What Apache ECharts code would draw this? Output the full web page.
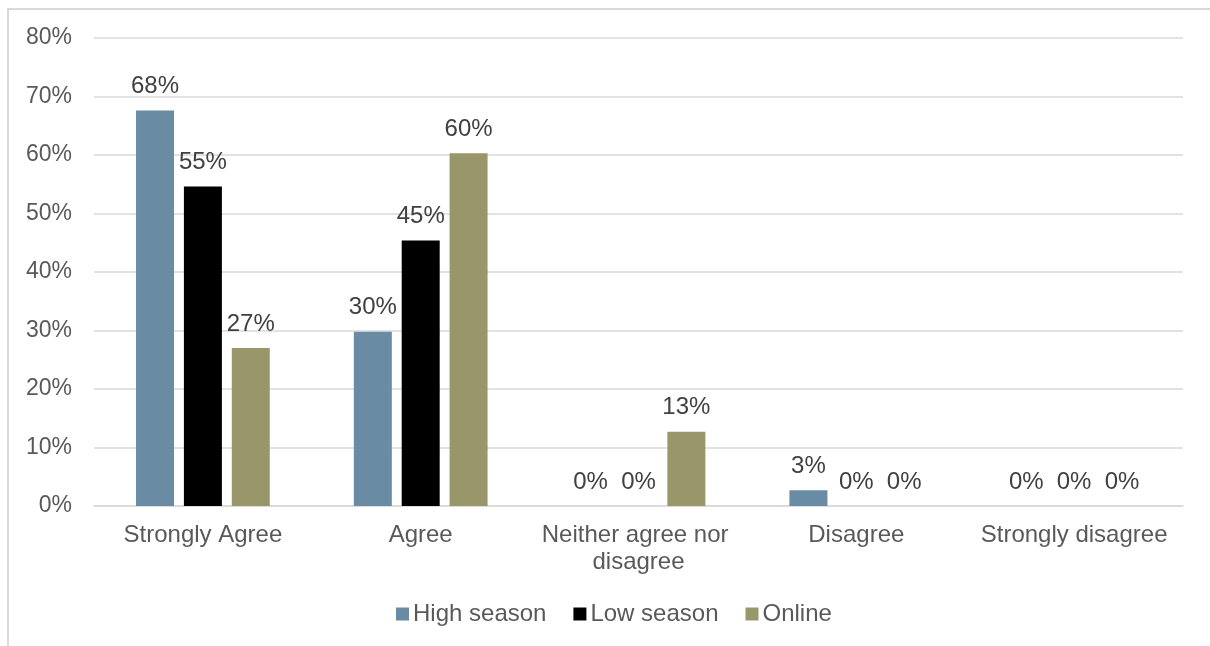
<!DOCTYPE html>
<html>
<head>
<meta charset="utf-8">
<script src="https://cdn.jsdelivr.net/npm/echarts@6/dist/echarts.min.js"></script>
<style>html,body{margin:0;padding:0;background:#fff}#c{width:1210px;height:646px}</style>
</head>
<body>
<div id="c"></div>
<script>
const categories = ['Strongly Agree', 'Agree', 'Neither agree nor disagree', 'Disagree', 'Strongly disagree'];
const highSeason = [67.6, 29.8, 0, 2.7, 0];
const lowSeason = [54.6, 45.4, 0, 0, 0];
const online = [27.0, 60.3, 12.7, 0, 0];
const seriesNames = ['High season', 'Low season', 'Online'];
const yTicks = [0, 10, 20, 30, 40, 50, 60, 70, 80];

const colors = ['#6a8ba4', '#000000', '#999769'];
const font = 'Liberation Sans, Arial, sans-serif';
const chart = echarts.init(document.getElementById('c'));
const label = {
  show: true, position: 'top', distance: 12, color: '#404040', fontSize: 24, fontFamily: font,
  formatter: p => Math.round(p.value) + '%'
};
function mk(name, data, i) {
  return { name, type: 'bar', data, barWidth: 38, barGap: '26%', itemStyle: { color: colors[i] }, label };
}
chart.setOption({
  animation: false,
  graphic: [{ type: 'rect', shape: { x: 8, y: 9, width: 1400, height: 1000 }, style: { fill: 'none', stroke: '#d9d9d9', lineWidth: 2 }, silent: true }],
  grid: { left: 94, right: 27, top: 38, bottom: 140 },
  legend: {
    top: 597, left: 391, itemWidth: 13, itemHeight: 13, itemGap: 27, icon: 'rect',
    textStyle: { color: '#595959', fontSize: 24, fontFamily: font, padding: [0, 0, 0, -1] },
    data: seriesNames
  },
  xAxis: {
    type: 'category', data: categories,
    axisLine: { lineStyle: { color: '#d9d9d9', width: 1.5 } },
    axisTick: { show: false },
    axisLabel: { color: '#595959', fontSize: 24, fontFamily: font, margin: 16, lineHeight: 27, width: 210, overflow: 'break', interval: 0 }
  },
  yAxis: {
    type: 'value', min: yTicks[0], max: yTicks[yTicks.length - 1], interval: 10,
    axisLabel: { color: '#595959', fontSize: 23, fontFamily: font, margin: 22, formatter: v => v + '%' },
    splitLine: { lineStyle: { color: '#d9d9d9', width: 1.5 } },
    axisLine: { show: false }, axisTick: { show: false }
  },
  series: [mk(seriesNames[0], highSeason, 0), mk(seriesNames[1], lowSeason, 1), mk(seriesNames[2], online, 2)]
});
</script>
</body>
</html>
